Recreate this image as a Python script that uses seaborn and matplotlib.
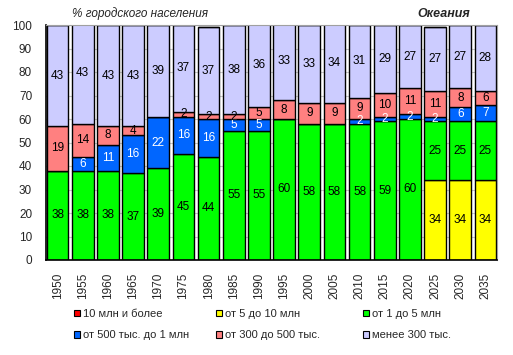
import numpy as np
import matplotlib
matplotlib.use('Agg')
import matplotlib.pyplot as plt
from matplotlib.patches import Patch
import seaborn as sns

sns.set_theme(style = 'white')
plt.rcParams['font.family'] = ['Liberation Sans', 'DejaVu Sans']

years = [str(y) for y in range(1950, 2040, 5)]

# shares of urban population by city size class, %
over_10m = [0] * 18
from_5_to_10m = [0, 0, 0, 0, 0, 0, 0, 0, 0, 0, 0, 0, 0, 0, 0, 34, 34, 34]
from_1_to_5m = [38, 38, 38, 37, 39, 45, 44, 55, 55, 60, 58, 58, 58, 59, 60, 25, 25, 25]
from_500k_to_1m = [0, 6, 11, 16, 22, 16, 16, 5, 5, 0, 0, 0, 2, 2, 2, 2, 6, 7]
from_300k_to_500k = [19, 14, 8, 4, 0, 2, 2, 2, 5, 8, 9, 9, 9, 10, 11, 11, 8, 6]
under_300k = [43, 43, 43, 43, 39, 37, 37, 38, 36, 33, 33, 34, 31, 29, 27, 27, 27, 28]

labels = ['10 млн и более', 'от 5 до 10 млн', 'от 1 до 5 млн',
          'от 500 тыс. до 1 млн', 'от 300 до 500 тыс.', 'менее 300 тыс.']
colors = ['#FF0000', '#FFFF00', '#00FF00', '#0066FF', '#FF8080', '#CCCCFF']
text_colors = ['black', 'black', 'black', 'white', 'black', 'black']

# stacking order from the bottom
stack = [(from_5_to_10m, 1), (from_1_to_5m, 2), (from_500k_to_1m, 3),
         (from_300k_to_500k, 4), (under_300k, 5), (over_10m, 0)]

fig = plt.figure(figsize = (5.13, 3.55), dpi = 100)
ax = fig.add_axes([46 / 513, 1 - 260 / 355, 451 / 513, 235 / 355])

bottom = np.zeros(len(years))
for values, i in stack:
    vals = np.array(values, dtype = float)
    sns.barplot(x = years, y = vals, bottom = bottom, color = colors[i], saturation = 1,
                width = 0.86, edgecolor = 'black', linewidth = 1.0, errorbar = None, ax = ax)
    for k, v in enumerate(vals):
        if v > 0:
            ax.text(k, bottom[k] + v / 2, f'{int(v)}', ha = 'center', va = 'center',
                    fontsize = 8.5, color = text_colors[i])
    bottom += vals

ax.set_ylim(0, 100)
ax.set_xlim(-0.46, len(years) - 0.54)
ax.set_yticks(range(0, 101, 10))
ax.yaxis.grid(True, color = '#C8C8C8', linewidth = 0.8)
ax.set_axisbelow(True)
ax.tick_params(axis = 'x', rotation = 90, labelsize = 8.5, pad = 3)
ax.tick_params(axis = 'y', labelsize = 8.5, pad = 4)
ax.set_xlabel('')
ax.set_ylabel('')
for side in ['left', 'bottom']:
    ax.spines[side].set_color('black')
    ax.spines[side].set_linewidth(1.2)
for side in ['top', 'right']:
    ax.spines[side].set_color('#A0A0A0')
    ax.spines[side].set_linewidth(0.8)

fig.text(140 / 513, 1 - 14 / 355, '% городского населения', ha = 'center', va = 'center',
         fontsize = 8.5, style = 'italic')
fig.text(470 / 513, 1 - 14 / 355, 'Океания', ha = 'right', va = 'center',
         fontsize = 9, style = 'italic', fontweight = 'bold')

# legend: three columns of two entries, placed like the original
handles = [Patch(facecolor = c, edgecolor = 'black', linewidth = 0.8) for c in colors]
col_x = [74, 216, 363]
for c, x0 in enumerate(col_x):
    idx = [c, c + 3]
    fig.legend([handles[i] for i in idx], [labels[i] for i in idx],
               loc = 'upper left', bbox_to_anchor = (x0 / 513, 1 - 309 / 355),
               frameon = False, borderpad = 0, borderaxespad = 0,
               fontsize = 8, handlelength = 0.55, handleheight = 0.55,
               handletextpad = 0.3, labelspacing = 1.0)

fig.savefig('out.png', dpi = 100)
